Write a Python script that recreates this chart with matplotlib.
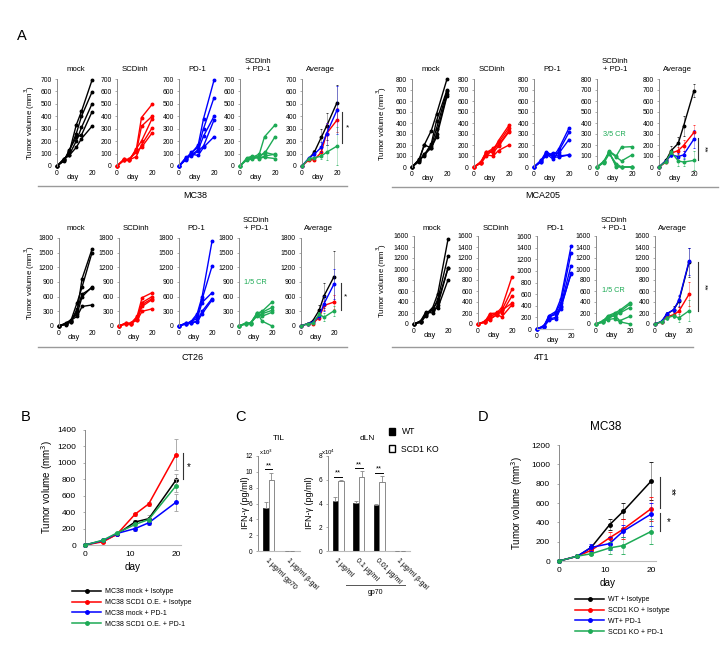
import matplotlib
matplotlib.use('Agg')
import matplotlib.pyplot as plt
from matplotlib.lines import Line2D
from matplotlib.patches import Patch

plt.rcParams['font.family'] = ['Liberation Sans', 'DejaVu Sans']

W, H = 724, 670
fig = plt.figure(figsize=(W / 100, H / 100), dpi=100)

BLACK, RED, BLUE, GREEN = '#000000', '#FF0000', '#0000FF', '#1DAA55'
SPINE = '#8a8a8a'

# ---------------- data ----------------
days = [0, 4, 7, 11, 14, 20]
panel_titles = ['mock', 'SCDinh', 'PD-1', 'SCDinh\n+ PD-1', 'Average']

MC38_mock = [[0, 50, 110, 330, 440, 690], [0, 45, 120, 260, 400, 595], [0, 60, 90, 200, 310, 500],
             [0, 40, 130, 230, 250, 435], [0, 55, 85, 150, 220, 320]]
MC38_scd = [[0, 55, 50, 130, 390, 495], [0, 50, 55, 110, 320, 400], [0, 55, 45, 140, 200, 380],
            [0, 50, 50, 75, 170, 305], [0, 45, 55, 120, 150, 265]]
MC38_pd1 = [[0, 65, 100, 170, 380, 690], [0, 60, 110, 150, 300, 550], [0, 55, 90, 130, 240, 400],
            [0, 70, 80, 120, 160, 370], [0, 50, 95, 85, 150, 235]]
MC38_combo = [[0, 60, 70, 95, 235, 330], [0, 55, 65, 80, 100, 235], [0, 65, 80, 60, 80, 95],
              [0, 50, 55, 75, 110, 90], [0, 60, 70, 65, 70, 60]]
MC38_avg = [[0, 60, 110, 230, 320, 510], [0, 50, 50, 110, 260, 370],
            [0, 65, 95, 150, 260, 450], [0, 60, 65, 80, 110, 160]]
MC38_err = [[0, 10, 20, 70, 110, 140], [0, 10, 10, 30, 90, 100],
            [0, 10, 15, 40, 90, 190], [0, 10, 10, 20, 60, 150]]

MCA205_mock = [[0, 60, 200, 330, 480, 800], [0, 50, 110, 210, 420, 700], [0, 70, 100, 190, 350, 690],
               [0, 55, 120, 170, 300, 660], [0, 65, 200, 175, 270, 645]]
MCA205_scd = [[0, 40, 135, 150, 240, 380], [0, 45, 130, 170, 220, 355], [0, 35, 100, 160, 200, 330],
              [0, 50, 140, 130, 190, 320], [0, 40, 110, 100, 150, 200]]
MCA205_pd1 = [[0, 60, 140, 100, 160, 355], [0, 50, 120, 70, 140, 315], [0, 55, 100, 130, 120, 250],
              [0, 45, 130, 90, 90, 110], [0, 60, 110, 110, 100, 110]]
MCA205_combo = [[0, 50, 145, 100, 180, 185], [0, 45, 140, 90, 55, 110], [0, 55, 130, 10, 0, 0],
                [0, 40, 120, 30, 0, 0], [0, 50, 135, 0, 0, 0]]
MCA205_avg = [[0, 60, 150, 215, 370, 695], [0, 45, 125, 150, 195, 315],
              [0, 55, 110, 95, 110, 255], [0, 50, 135, 55, 45, 60]]
MCA205_err = [[0, 10, 40, 60, 90, 60], [0, 10, 20, 30, 50, 70],
              [0, 10, 20, 30, 40, 80], [0, 10, 20, 50, 40, 90]]

CT26_mock = [[0, 40, 100, 300, 970, 1570], [0, 50, 90, 480, 800, 1500], [0, 60, 120, 250, 600, 800],
             [0, 30, 80, 350, 650, 780], [0, 45, 110, 200, 400, 430]]
CT26_scd = [[0, 50, 40, 200, 580, 680], [0, 60, 50, 180, 480, 600], [0, 40, 55, 150, 440, 560],
            [0, 55, 45, 130, 400, 540], [0, 45, 60, 120, 300, 350]]
CT26_pd1 = [[0, 50, 80, 250, 600, 1730], [0, 60, 70, 200, 550, 1220], [0, 40, 90, 150, 480, 680],
            [0, 55, 60, 100, 300, 560], [0, 45, 75, 80, 250, 530]]
CT26_combo = [[0, 50, 60, 260, 300, 490], [0, 60, 50, 250, 280, 380], [0, 40, 70, 200, 250, 320],
              [0, 55, 45, 230, 200, 280], [0, 45, 55, 270, 100, 0]]
CT26_avg = [[0, 45, 100, 320, 620, 1010], [0, 50, 50, 170, 420, 490],
            [0, 50, 75, 200, 460, 860], [0, 50, 55, 240, 180, 310]]
CT26_err = [[0, 10, 30, 100, 250, 520], [0, 10, 10, 40, 100, 150],
            [0, 10, 20, 50, 150, 300], [0, 10, 10, 40, 80, 100]]

T41_mock = [[0, 40, 180, 300, 550, 1540], [0, 50, 200, 250, 450, 1230], [0, 30, 150, 280, 400, 1020],
            [0, 60, 220, 200, 350, 1010], [0, 45, 160, 260, 290, 800]]
T41_scd = [[0, 40, 190, 200, 300, 860], [0, 50, 150, 180, 250, 630], [0, 30, 120, 210, 200, 510],
           [0, 45, 100, 160, 250, 380], [0, 35, 80, 170, 130, 350]]
T41_pd1 = [[0, 50, 230, 300, 520, 1420], [0, 40, 200, 280, 450, 1300], [0, 60, 170, 200, 400, 1090],
           [0, 30, 150, 180, 350, 960], [0, 45, 210, 250, 380, 940]]
T41_combo = [[0, 50, 150, 200, 250, 390], [0, 40, 130, 180, 220, 360], [0, 60, 120, 150, 200, 300],
             [0, 30, 100, 160, 60, 140], [0, 45, 80, 100, 40, 0]]
T41_avg = [[0, 45, 180, 260, 410, 1120], [0, 40, 130, 170, 230, 540],
           [0, 50, 190, 260, 430, 1140], [0, 45, 110, 150, 110, 240]]
T41_err = [[0, 10, 30, 60, 100, 260], [0, 10, 30, 40, 80, 220],
           [0, 10, 30, 50, 100, 240], [0, 10, 30, 40, 80, 190]]

# Panel B
B_labels = ['MC38 mock + Isotype', 'MC38 SCD1 O.E. + Isotype', 'MC38 mock + PD-1', 'MC38 SCD1 O.E. + PD-1']
B_vals = [[0, 50, 130, 280, 320, 790], [0, 40, 130, 375, 500, 1100],
          [0, 55, 140, 200, 270, 520], [0, 60, 145, 250, 310, 720]]
B_err = [[0, 5, 10, 30, 40, 80], [0, 5, 10, 20, 20, 190],
         [0, 5, 10, 30, 25, 100], [0, 5, 10, 20, 20, 80]]

# Panel C
TIL_cats = ['1 \u03bcg/ml gp70', '1 \u03bcg/ml \u03b2-gal']
TIL_WT = [5.4, 0.06]
TIL_WT_err = [0.8, 0.0]
TIL_KO = [9.0, 0.06]
TIL_KO_err = [0.9, 0.0]
dLN_cats = ['1 \u03bcg/ml', '0.1 \u03bcg/ml', '0.01 \u03bcg/ml', '1 \u03bcg/ml \u03b2-gal']
dLN_WT = [4.25, 4.05, 3.9, 0.02]
dLN_WT_err = [0.3, 0.2, 0.05, 0.0]
dLN_KO = [5.9, 6.25, 5.85, 0.03]
dLN_KO_err = [0.1, 0.45, 0.5, 0.0]

# Panel D
D_labels = ['WT + Isotype', 'SCD1 KO + Isotype', 'WT+ PD-1', 'SCD1 KO + PD-1']
D_vals = [[0, 50, 140, 375, 515, 825], [0, 50, 110, 240, 330, 540],
          [0, 50, 140, 180, 310, 485], [0, 50, 75, 135, 160, 305]]
D_err = [[0, 5, 15, 55, 80, 195], [0, 5, 15, 60, 100, 125],
         [0, 5, 40, 70, 60, 120], [0, 5, 15, 60, 90, 130]]

COLORS = [BLACK, RED, BLUE, GREEN]


# ---------------- helpers ----------------
def add_ax(x0, ytop, w, h):
    return fig.add_axes([x0 / W, 1 - (ytop + h) / H, w / W, h / H])


def ftext(x, y, s, **kw):
    fig.text(x / W, 1 - y / H, s, **kw)


def fline(xs, ys, **kw):
    fig.add_artist(Line2D([x / W for x in xs], [1 - y / H for y in ys], **kw))


def style_ax(ax, fs, bottom=False, ytick_pad=3.5, xtick_pad=3.0):
    for s in ['top', 'right']:
        ax.spines[s].set_visible(False)
    ax.spines['left'].set_color(SPINE)
    ax.spines['left'].set_linewidth(0.7)
    if bottom:
        ax.spines['bottom'].set_color('#bbbbbb')
        ax.spines['bottom'].set_linewidth(0.8)
    else:
        ax.spines['bottom'].set_visible(False)
    ax.tick_params(axis='y', labelsize=fs, length=1.5, width=0.5, color=SPINE, pad=ytick_pad)
    ax.tick_params(axis='x', labelsize=fs, length=0, pad=xtick_pad)


def draw_group(name, spines, ytop, ybot, px20, ymax, step, indiv, avg, err,
               title_pad, ylab_x, gline, glabel, sig, cr=None, ybots=None, bottoms=None):
    w = px20 * 21 / 20
    for i, x0 in enumerate(spines):
        yb = ybots[i] if ybots else ybot
        ax = add_ax(x0, ytop, w, yb - ytop)
        style_ax(ax, 4.9, bottom=(bottoms[i] if bottoms else False), ytick_pad=2.3, xtick_pad=3.0)
        if i < 4:
            for vals in indiv[i]:
                ax.plot(days, vals, color=COLORS[i], lw=1.0, marker='o', ms=1.8, clip_on=False)
        else:
            for k in range(4):
                ax.errorbar(days, avg[k], yerr=err[k], color=COLORS[k], lw=1.0, marker='o', ms=1.8,
                            ecolor=COLORS[k], elinewidth=0.5, capsize=1.0, capthick=0.5,
                            clip_on=False, zorder=3 + k)
            for c in ax.collections:
                c.set_alpha(0.45)
        ax.set_xlim(0, 21)
        ax.set_ylim(0, ymax)
        ax.set_yticks(range(0, ymax + 1, step))
        ax.set_xticks([0, 20])
        ax.set_title(panel_titles[i], fontsize=5.6, pad=title_pad)
        hday = yb - ytop
        ax.text(9, -(11.5) / hday, 'day', transform=ax.get_xaxis_transform(),
                fontsize=5.4, ha='center', va='center')
        if i == 3 and cr is not None:
            ax.text(10, cr[1], cr[0], color=GREEN, fontsize=5.3, ha='center', va='center')
    ftext(ylab_x, (ytop + ybot) / 2, 'Tumor volume (mm$^3$)', rotation=90, fontsize=5.6,
          ha='center', va='center')
    fline(gline[0], [gline[1], gline[1]], color='#9a9a9a', lw=1.0)
    ftext(glabel[0], glabel[1], name, fontsize=6.5, ha='center', va='center')
    sx, sy0, sy1, tx, ty, star, rot = sig
    fline([sx, sx], [sy0, sy1], color='#333333', lw=0.8)
    ftext(tx, ty, star, fontsize=6, ha='center', va='center', rotation=rot)


def line_handles():
    return [Line2D([], [], color=c, lw=1.1, marker='o', ms=2.5) for c in COLORS]


# ---------------- panel A ----------------
ftext(22, 36, 'A', fontsize=10.5, ha='center', va='center')

draw_group('MC38', [57, 117, 179, 240, 302], 79, 166, 35, 700, 100,
           [MC38_mock, MC38_scd, MC38_pd1, MC38_combo], MC38_avg, MC38_err,
           title_pad=6.0, ylab_x=30, gline=([38, 347], 186), glabel=(195, 196),
           sig=(342, 112, 143, 348, 128, '*', 0))

draw_group('MCA205', [412, 474, 534, 597, 659], 79, 167, 35, 800, 100,
           [MCA205_mock, MCA205_scd, MCA205_pd1, MCA205_combo], MCA205_avg, MCA205_err,
           title_pad=6.0, ylab_x=382, gline=([392, 718], 187), glabel=(543, 196),
           sig=(698, 138, 160, 704, 149, '**', 270), cr=('3/5 CR', 300))

draw_group('CT26', [59, 119, 179, 239, 301], 238, 326, 33, 1800, 300,
           [CT26_mock, CT26_scd, CT26_pd1, CT26_combo], CT26_avg, CT26_err,
           title_pad=5.5, ylab_x=30, gline=([38, 347], 347), glabel=(193, 357),
           sig=(341, 283, 310, 346, 297, '*', 0), cr=('1/5 CR', 900))

draw_group('4T1', [414, 478, 537, 596, 655], 236, 324, 34, 1600, 200,
           [T41_mock, T41_scd, T41_pd1, T41_combo], T41_avg, T41_err,
           title_pad=4.5, ylab_x=382, gline=([392, 693], 347), glabel=(542, 357),
           sig=(698, 262, 311, 704, 287, '**', 270), cr=('1/5 CR', 600),
           ybots=[324, 324, 329, 324, 324], bottoms=[False, False, True, False, False])

# ---------------- panel B ----------------
ftext(26, 417, 'B', fontsize=10.5, ha='center', va='center')
axB = add_ax(85, 430, 91 * 21 / 20, 115)
style_ax(axB, 6, bottom=True, ytick_pad=5, xtick_pad=4)
for k in range(4):
    axB.errorbar(days, B_vals[k], yerr=B_err[k], color=COLORS[k], lw=1.1, marker='o', ms=2.5,
                 ecolor='#a0a0a0', elinewidth=0.6, capsize=1.2, capthick=0.6, clip_on=False,
                 zorder=3 + k)
axB.set_xlim(0, 21)
axB.set_ylim(0, 1400)
axB.set_yticks(range(0, 1401, 200))
axB.set_xticks([0, 10, 20])
axB.set_xlabel('day', fontsize=7.2, labelpad=3)
ftext(47, 487, 'Tumor volume (mm$^3$)', rotation=90, fontsize=7, ha='center', va='center')
fline([183, 183], [453, 479], color='#333333', lw=0.8)
ftext(189, 467, '*', fontsize=7, ha='center', va='center')
fig.legend(line_handles(), B_labels, loc='center left', bbox_to_anchor=(72 / W, 1 - 608 / H),
           frameon=False, fontsize=5, handlelength=4.2, handletextpad=0.6, labelspacing=0.55,
           borderpad=0, borderaxespad=0)

# ---------------- panel C ----------------
ftext(240, 417, 'C', fontsize=10.5, ha='center', va='center')


def bar_panel(ax, cats, wt, wt_err, ko, ko_err, ymax, step, sig_y):
    x = list(range(len(cats)))
    bw = 0.27
    xw = [v - bw / 2 for v in x]
    xk = [v + bw / 2 for v in x]
    ax.bar(xw, wt, width=bw, color='black', edgecolor='black', lw=0.5, zorder=2)
    ax.bar(xk, ko, width=bw, color='white', edgecolor='#777777', lw=0.6, zorder=2)
    ax.errorbar(xw, wt, yerr=[[0] * len(wt), wt_err], fmt='none', ecolor='#888888',
                elinewidth=0.6, capsize=1.3, capthick=0.6, zorder=3)
    ax.errorbar(xk, ko, yerr=[[0] * len(ko), ko_err], fmt='none', ecolor='#888888',
                elinewidth=0.6, capsize=1.3, capthick=0.6, zorder=3)
    ax.set_xlim(-0.5, len(cats) - 0.5)
    ax.set_ylim(0, ymax)
    ax.set_yticks(range(0, ymax + 1, step))
    ax.set_xticks(x)
    ax.set_xticklabels(cats, rotation=-45, ha='left', va='top', rotation_mode='anchor', fontsize=5)
    for j, yv in enumerate(sig_y):
        if yv is None:
            continue
        ax.plot([xw[j] - 0.05, xk[j] + 0.05], [yv, yv], color='black', lw=0.7)
        ax.text(x[j], yv, '**', fontsize=5.5, ha='center', va='bottom')


axT = add_ax(258, 456, 42, 95)
style_ax(axT, 4.7, bottom=True, ytick_pad=2.5, xtick_pad=4)
bar_panel(axT, TIL_cats, TIL_WT, TIL_WT_err, TIL_KO, TIL_KO_err, 12, 2,
          [max(a + b, c + d) + 0.4 if i == 0 else None
           for i, (a, b, c, d) in enumerate(zip(TIL_WT, TIL_WT_err, TIL_KO, TIL_KO_err))])
ftext(279, 438, 'TIL', fontsize=6, ha='center', va='center')
ftext(266, 452, 'x10$^3$', fontsize=4.3, ha='center', va='center')
ftext(245, 503, 'IFN-\u03b3 (pg/ml)', rotation=90, fontsize=6.5, ha='center', va='center')

axL = add_ax(328, 456, 82, 95)
style_ax(axL, 4.7, bottom=True, ytick_pad=2.5, xtick_pad=4)
bar_panel(axL, dLN_cats, dLN_WT, dLN_WT_err, dLN_KO, dLN_KO_err, 8, 2,
          [max(a + b, c + d) + 0.25 if i < 3 else None
           for i, (a, b, c, d) in enumerate(zip(dLN_WT, dLN_WT_err, dLN_KO, dLN_KO_err))])
ftext(367, 438, 'dLN', fontsize=6, ha='center', va='center')
ftext(328, 452, 'x10$^4$', fontsize=4.3, ha='center', va='center')
ftext(309, 503, 'IFN-\u03b3 (pg/ml)', rotation=90, fontsize=6.5, ha='center', va='center')
fline([346, 405], [585, 585], color='#555555', lw=0.7)
ftext(375, 592, 'gp70', fontsize=5, ha='center', va='center')

fig.legend([Patch(facecolor='black', edgecolor='black'), Patch(facecolor='white', edgecolor='black')],
           ['WT', 'SCD1 KO'], loc='center left', bbox_to_anchor=(389 / W, 1 - 440.5 / H),
           frameon=False, fontsize=6.2, handlelength=0.75, handleheight=0.75,
           handletextpad=0.7, labelspacing=0.95, borderpad=0, borderaxespad=0)

# ---------------- panel D ----------------
ftext(483, 417, 'D', fontsize=10.5, ha='center', va='center')
axD = add_ax(559, 445, 92 * 21 / 20, 116)
style_ax(axD, 6, bottom=True, ytick_pad=5, xtick_pad=4)
for k in range(4):
    axD.errorbar(days, D_vals[k], yerr=D_err[k], color=COLORS[k], lw=1.1, marker='o', ms=2.5,
                 ecolor=COLORS[k], elinewidth=0.6, capsize=1.2, capthick=0.6, clip_on=False,
                 zorder=3 + k)
for c in axD.collections:
    c.set_alpha(0.45)
axD.set_xlim(0, 21)
axD.set_ylim(0, 1200)
axD.set_yticks(range(0, 1201, 200))
axD.set_xticks([0, 10, 20])
axD.set_xlabel('day', fontsize=7.2, labelpad=3)
ftext(606, 427, 'MC38', fontsize=8.5, ha='center', va='center')
ftext(517, 503, 'Tumor volume (mm$^3$)', rotation=90, fontsize=7, ha='center', va='center')
fline([660, 660], [477, 508], color='#333333', lw=0.8)
ftext(671, 492, '**', fontsize=7, ha='center', va='center', rotation=270)
fline([660, 660], [513, 531], color='#333333', lw=0.8)
ftext(669, 522, '*', fontsize=7, ha='center', va='center')
fig.legend(line_handles(), D_labels, loc='center left', bbox_to_anchor=(575 / W, 1 - 616 / H),
           frameon=False, fontsize=5, handlelength=4.2, handletextpad=0.6, labelspacing=0.55,
           borderpad=0, borderaxespad=0)

fig.savefig('out.png', dpi=100, facecolor='white')
